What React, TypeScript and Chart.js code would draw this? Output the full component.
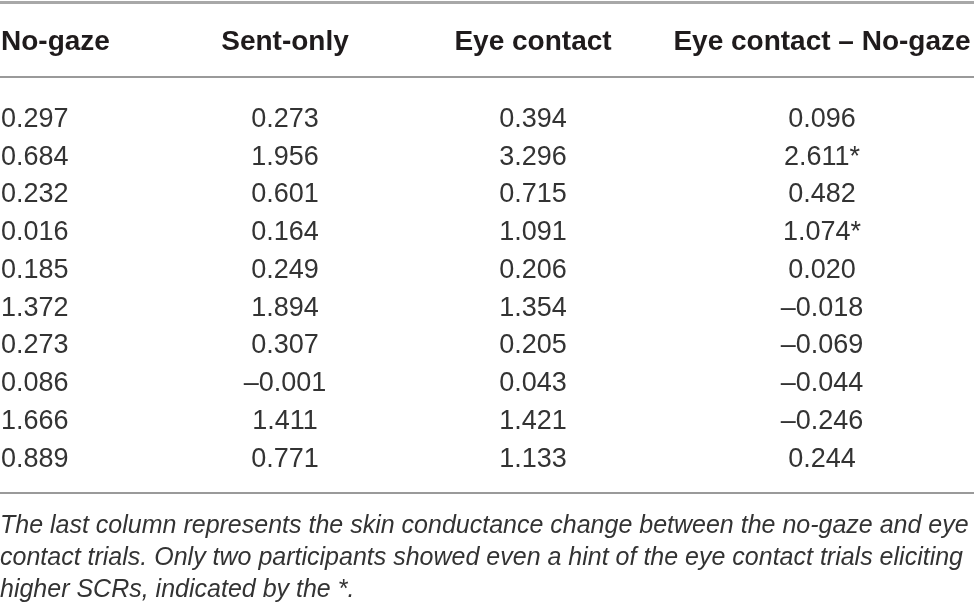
import React, { useEffect, useRef } from "react";
import { Chart, registerables } from "chart.js";

Chart.register(...registerables);

// ---- data ----
const columnHeaders = ["No-gaze", "Sent-only", "Eye contact", "Eye contact – No-gaze"];
const noGaze = [0.297, 0.684, 0.232, 0.016, 0.185, 1.372, 0.273, 0.086, 1.666, 0.889];
const sentOnly = [0.273, 1.956, 0.601, 0.164, 0.249, 1.894, 0.307, -0.001, 1.411, 0.771];
const eyeContact = [0.394, 3.296, 0.715, 1.091, 0.206, 1.354, 0.205, 0.043, 1.421, 1.133];
const eyeMinusNoGaze = [0.096, 2.611, 0.482, 1.074, 0.02, -0.018, -0.069, -0.044, -0.246, 0.244];
const markedRows = [false, true, false, true, false, false, false, false, false, false];
const footnoteLines = [
  "The last column represents the skin conductance change between the no-gaze and eye",
  "contact trials. Only two participants showed even a hint of the eye contact trials eliciting",
  "higher SCRs, indicated by the *.",
];

// ---- layout (in scale units) ----
const COL_EDGES = [0, 17.86, 40.66, 68.79, 100];
const Y_MIN = -3.1;
const Y_MAX = 13.05;
const Y_TOP_RULE = -3.06;
const Y_HEADER = -2.04;
const Y_HEADER_RULE = -1.06;
const Y_BOTTOM_RULE = 9.95;
const Y_FOOTNOTES = [10.76, 11.61, 12.46];

const fmt = (v: number) => {
  const s = Math.abs(v).toFixed(3);
  return v < 0 ? "–" + s : s;
};

const TEXT_COLOR = "#1f1b1c";
const BODY_COLOR = "#333333";
const RULE_COLOR = "#9a9a9a";
const SANS = '"Liberation Sans", Arial, Helvetica, sans-serif';

const tablePlugin = {
  id: "tablePlugin",
  afterDraw(chart: any) {
    const { ctx } = chart;
    const x = chart.scales.x;
    const y = chart.scales.y;
    const left = x.getPixelForValue(0);
    const right = x.getPixelForValue(100);
    ctx.save();

    // rules
    ctx.fillStyle = "#a8a8a8";
    ctx.fillRect(left, Math.round(y.getPixelForValue(Y_TOP_RULE)) - 1, right - left, 3);
    ctx.fillStyle = RULE_COLOR;
    ctx.fillRect(left, Math.round(y.getPixelForValue(Y_HEADER_RULE)) - 1, right - left, 2);
    ctx.fillRect(left, Math.round(y.getPixelForValue(Y_BOTTOM_RULE)) - 1, right - left, 2);

    const colX = (c: number) =>
      c === 0 ? x.getPixelForValue(COL_EDGES[0]) + 1 : x.getPixelForValue((COL_EDGES[c] + COL_EDGES[c + 1]) / 2);
    const align = (c: number) => (c === 0 ? "left" : "center");

    ctx.textBaseline = "alphabetic";
    ctx.fillStyle = TEXT_COLOR;

    // header
    ctx.font = `bold 28px ${SANS}`;
    columnHeaders.forEach((h, c) => {
      ctx.textAlign = align(c);
      ctx.fillText(h, colX(c), y.getPixelForValue(Y_HEADER) + 10);
    });

    // body
    ctx.font = `27px ${SANS}`;
    ctx.fillStyle = BODY_COLOR;
    const cols = [noGaze, sentOnly, eyeContact, eyeMinusNoGaze];
    cols.forEach((arr, c) => {
      ctx.textAlign = align(c);
      arr.forEach((v, r) => {
        let s = fmt(v);
        if (c === 3 && markedRows[r]) s += "*";
        ctx.fillText(s, colX(c), y.getPixelForValue(r) + 9.7);
      });
    });

    // footnote
    ctx.font = `italic 25px ${SANS}`;
    ctx.textAlign = "left";
    ctx.fillStyle = BODY_COLOR;
    footnoteLines.forEach((line, i) => {
      ctx.fillText(line, left, y.getPixelForValue(Y_FOOTNOTES[i]) + 9);
    });

    ctx.restore();
  },
};

export default function App() {
  const ref = useRef<HTMLCanvasElement | null>(null);
  useEffect(() => {
    document.body.style.margin = "0";
    document.body.style.background = "#ffffff";
    if (!ref.current) return;
    const chart = new Chart(ref.current, {
      type: "scatter",
      data: { datasets: [] },
      options: {
        animation: false,
        responsive: false,
        events: [],
        layout: { padding: 0 },
        plugins: { legend: { display: false }, tooltip: { enabled: false }, title: { display: false } },
        scales: {
          x: { type: "linear", min: 0, max: 100, display: false },
          y: { type: "linear", min: Y_MIN, max: Y_MAX, reverse: true, display: false },
        },
      },
      plugins: [tablePlugin],
    });
    return () => chart.destroy();
  }, []);
  return <canvas ref={ref} width={974} height={610} style={{ display: "block" }} />;
}
